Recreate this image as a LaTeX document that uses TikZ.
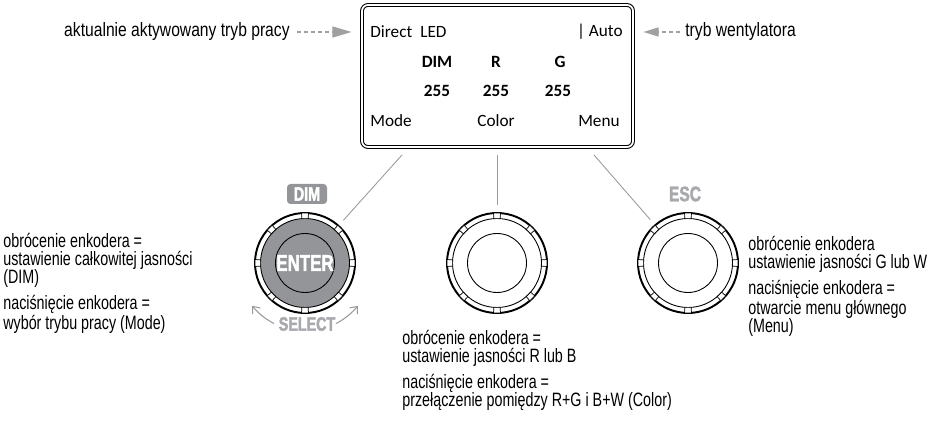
\documentclass[tikz,border=0pt]{standalone}
\usepackage{fontspec}
\usepackage{tikz}
\usetikzlibrary{arrows.meta, positioning}
\newfontfamily\hintfont{Liberation Sans}[FakeStretch=0.81]
\newfontfamily\lblfont{Liberation Sans}[FakeStretch=0.74]
\newfontfamily\knobfont{Liberation Sans Bold}[FakeStretch=0.74, FakeBold=2]
\newfontfamily\lcdfont{Carlito}
\definecolor{knobgray}{HTML}{939598}
\definecolor{tipgray}{HTML}{A0A0A0}
\definecolor{leadgray}{HTML}{9A9A9A}
\definecolor{capgray}{HTML}{A7A9AC}

\begin{document}
\begin{tikzpicture}[
    x=0.2mm, y=-0.2mm,
    hintlbl/.style={font=\hintfont\fontsize{11}{10.3}\selectfont, inner sep=0pt},
    lbl/.style={font=\lblfont\fontsize{11}{10.3}\selectfont, align=left, inner sep=0pt},
    lcdtxt/.style={font=\lcdfont\fontsize{9.8}{11}\selectfont, inner sep=0pt},
    lcdval/.style={font=\lcdfont\bfseries\fontsize{9.8}{11}\selectfont, inner sep=0pt},
    lcd/.style={draw, line width=0.6pt, double=white, double distance=1pt,
        rounded corners=1.2mm, minimum width=5.42cm, minimum height=2.84cm, inner sep=0pt},
    knob/.style={circle, minimum size=2cm, inner sep=0pt, outer sep=0.15cm},
    knobcap/.style={font=\knobfont\fontsize{12}{12}\selectfont, inner sep=0pt},
    dimtag/.style={fill=knobgray, rounded corners=2pt, text=white, minimum width=0.8cm,
        minimum height=0.4cm, inner sep=0pt, font=\knobfont\fontsize{11}{11}\selectfont},
    notch/.style={draw, line width=0.4pt, fill=white},
    leader/.style={draw=leadgray, line width=0.5pt},
    hint/.style={draw=tipgray, line width=0.6pt, dash pattern=on 0.8mm off 0.6mm},
    selarr/.style={draw=leadgray, line width=0.6pt, -{Straight Barb[length=1.2mm, width=2mm]}}
]
\useasboundingbox (0,0) rectangle (950,427);

% --- Display ---
\node[lcd] (lcd) at (497.5,76) {};
\node[lcdtxt, anchor=west] (direct) at (370,32) {Direct};
\node[lcdtxt, anchor=west] (led)    at (420,32) {LED};
\node[lcdtxt, anchor=east] (auto)   at (623,32) {| Auto};
\node[lcdval] (hdim) at (437,62) {DIM};
\node[lcdval] (hr)   at (496,62) {R};
\node[lcdval] (hg)   at (560,62) {G};
\node[lcdval] (vdim) at (437,91) {255};
\node[lcdval] (vr)   at (496,91) {255};
\node[lcdval] (vg)   at (558,91) {255};
\node[lcdtxt, anchor=west] (mode)  at (370,121) {Mode};
\node[lcdtxt]              (color) at (496,121) {Color};
\node[lcdtxt, anchor=east] (menu)  at (620,121) {Menu};

% --- Hints at the top ---
\node[hintlbl, anchor=east] (curmode) at (290,32) {aktualnie aktywowany tryb pracy};
\node[hintlbl, anchor=west] (fanmode) at (685,32) {tryb wentylatora};
\draw[hint, -{Triangle[length=3.8mm, width=2.2mm]}, shorten <=1.4mm, shorten >=2mm]
    (curmode.east) -- (curmode.east -| lcd.west);
\draw[hint, -{Triangle[length=3mm, width=1.8mm]}, shorten <=1mm, shorten >=2mm]
    (fanmode.west) -- (fanmode.west -| lcd.east);

% --- Encoders ---
\foreach \kx/\kn/\kf in {305/enc1/knobgray, 497/enc2/white, 688/enc3/white} {
    \node[knob] (\kn) at (\kx,263) {};
    \draw[line width=1.1pt] (\kn.center) circle[radius=1cm];
    \draw[line width=0.5pt, fill=\kf] (\kn.center) circle[radius=0.89cm];
    \foreach \a in {0,45,...,315}
        \draw[notch] ([shift={({\a-4}:0.89cm)}]\kn.center) -- ([shift={({\a-4}:1cm)}]\kn.center)
            -- ([shift={({\a+4}:1cm)}]\kn.center) -- ([shift={({\a+4}:0.89cm)}]\kn.center) -- cycle;
    \draw[line width=0.5pt] (\kn.center) circle[radius=0.59cm];
}

\node[knobcap, text=white, font=\knobfont\fontsize{13}{13}\selectfont] (enter) at (enc1) {ENTER};
\node[dimtag] (dimkey) at (307,194) {DIM};
\node[knobcap, text=capgray, font=\knobfont\fontsize{11}{11}\selectfont] (select) at (307,324) {SELECT};
\node[knobcap, text=capgray] (esc) at (685,194) {ESC};

\draw[selarr] ([shift={(243:1.36cm)}]enc1.center) arc[start angle=243, end angle=219, radius=1.36cm];
\draw[selarr] ([shift={(297:1.36cm)}]enc1.center) arc[start angle=297, end angle=321, radius=1.36cm];

% --- Leaders from display to encoders ---
\coordinate (lcdA) at (402,155);
\coordinate (lcdB) at (497,155);
\coordinate (lcdC) at (594,155);
\draw[leader] (lcdA) -- (enc1);
\draw[leader] (lcdB) -- (enc2);
\draw[leader] (lcdC) -- (enc3);

% --- Descriptions ---
\node[lbl, anchor=west] (rotL) at (3,260)
    {obrócenie enkodera =\\ustawienie całkowitej jasności\\(DIM)};
\node[lbl, below=4pt of rotL.south west, anchor=north west] (pushL)
    {naciśnięcie enkodera =\\wybór trybu pracy (Mode)};
\node[lbl, anchor=west] (rotM) at (402,348)
    {obrócenie enkodera =\\ustawienie jasności R lub B};
\node[lbl, below=4pt of rotM.south west, anchor=north west] (pushM)
    {naciśnięcie enkodera =\\przełączenie pomiędzy R+G i B+W (Color)};
\node[lbl, anchor=west] (rotR) at (748,254)
    {obrócenie enkodera\\ustawienie jasności G lub W};
\node[lbl, below=4pt of rotR.south west, anchor=north west] (pushR)
    {naciśnięcie enkodera =\\otwarcie menu głównego\\(Menu)};

\end{tikzpicture}
\end{document}
